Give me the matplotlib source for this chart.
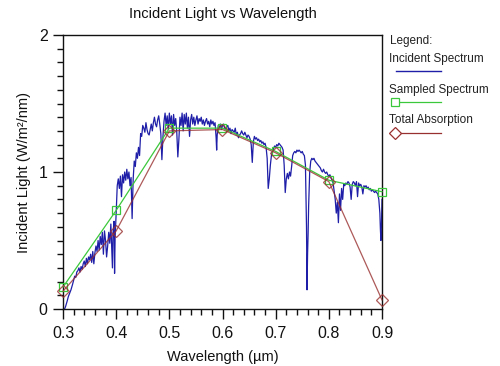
import matplotlib
matplotlib.use("Agg")
import matplotlib.pyplot as plt
from matplotlib.lines import Line2D
from matplotlib.ticker import MultipleLocator, FuncFormatter

plt.rcParams['font.family'] = ['Liberation Sans', 'DejaVu Sans']

# ---- data ----
wavelength = [
    0.300, 0.303, 0.305, 0.308, 0.310, 0.313, 0.315, 0.318, 0.320, 0.322, 0.324, 0.326, 0.328, 0.330,
    0.332, 0.334, 0.336, 0.338, 0.340, 0.342, 0.344, 0.346, 0.348, 0.350, 0.352, 0.354, 0.356, 0.358,
    0.360, 0.362, 0.364, 0.366, 0.368, 0.370, 0.372, 0.374, 0.376, 0.378, 0.380, 0.382, 0.384, 0.386,
    0.388, 0.390, 0.392, 0.393, 0.394, 0.396, 0.397, 0.398, 0.400, 0.402, 0.404, 0.406, 0.408, 0.410,
    0.412, 0.414, 0.416, 0.418, 0.420, 0.422, 0.424, 0.426, 0.428, 0.430, 0.432, 0.434, 0.436, 0.438,
    0.440, 0.442, 0.444, 0.446, 0.448, 0.450, 0.452, 0.454, 0.456, 0.458, 0.460, 0.462, 0.464, 0.466,
    0.468, 0.470, 0.472, 0.474, 0.476, 0.478, 0.480, 0.482, 0.484, 0.486, 0.488, 0.490, 0.492, 0.494,
    0.496, 0.498, 0.500, 0.502, 0.504, 0.506, 0.508, 0.510, 0.512, 0.514, 0.516, 0.518, 0.520, 0.522,
    0.524, 0.526, 0.528, 0.530, 0.532, 0.534, 0.536, 0.538, 0.540, 0.542, 0.544, 0.546, 0.548, 0.550,
    0.552, 0.554, 0.556, 0.558, 0.560, 0.562, 0.564, 0.566, 0.568, 0.570, 0.572, 0.574, 0.576, 0.578,
    0.580, 0.582, 0.584, 0.586, 0.588, 0.589, 0.590, 0.592, 0.594, 0.596, 0.598, 0.600, 0.602, 0.604,
    0.606, 0.608, 0.610, 0.612, 0.614, 0.616, 0.618, 0.620, 0.622, 0.624, 0.626, 0.628, 0.630, 0.632,
    0.634, 0.636, 0.638, 0.640, 0.642, 0.644, 0.646, 0.648, 0.650, 0.652, 0.654, 0.656, 0.658, 0.660,
    0.662, 0.664, 0.666, 0.668, 0.670, 0.672, 0.674, 0.676, 0.678, 0.680, 0.682, 0.684, 0.686, 0.688,
    0.690, 0.692, 0.694, 0.696, 0.698, 0.700, 0.702, 0.704, 0.706, 0.708, 0.710, 0.712, 0.714, 0.716,
    0.718, 0.720, 0.722, 0.724, 0.726, 0.728, 0.730, 0.732, 0.734, 0.736, 0.738, 0.740, 0.742, 0.744,
    0.746, 0.748, 0.750, 0.752, 0.754, 0.756, 0.758, 0.759, 0.760, 0.761, 0.762, 0.764, 0.766, 0.768,
    0.770, 0.772, 0.774, 0.776, 0.778, 0.780, 0.782, 0.784, 0.786, 0.788, 0.790, 0.792, 0.794, 0.796,
    0.798, 0.800, 0.802, 0.804, 0.806, 0.808, 0.810, 0.812, 0.814, 0.816, 0.818, 0.820, 0.822, 0.824,
    0.826, 0.828, 0.830, 0.832, 0.834, 0.836, 0.838, 0.840, 0.842, 0.844, 0.846, 0.848, 0.850, 0.852,
    0.854, 0.856, 0.858, 0.860, 0.862, 0.864, 0.866, 0.868, 0.870, 0.872, 0.874, 0.876, 0.878, 0.880,
    0.882, 0.884, 0.886, 0.888, 0.890, 0.892, 0.894, 0.896, 0.897, 0.898, 0.899, 0.900,
]
incident = [
    0.00, 0.00, 0.02, 0.06, 0.09, 0.12, 0.14, 0.18, 0.21, 0.24, 0.23, 0.27, 0.28, 0.30,
    0.27, 0.31, 0.29, 0.33, 0.35, 0.31, 0.37, 0.33, 0.38, 0.36, 0.40, 0.34, 0.42, 0.33,
    0.41, 0.46, 0.42, 0.50, 0.43, 0.53, 0.47, 0.56, 0.40, 0.57, 0.50, 0.38, 0.46, 0.56,
    0.48, 0.62, 0.42, 0.30, 0.55, 0.64, 0.26, 0.52, 0.70, 0.90, 0.95, 0.88, 0.97, 0.82,
    0.98, 0.92, 1.00, 0.94, 1.02, 0.95, 1.00, 0.90, 0.96, 0.66, 0.95, 1.08, 1.04, 1.14,
    1.10, 1.18, 1.12, 1.28, 1.26, 1.34, 1.32, 1.29, 1.36, 1.31, 1.28, 1.27, 1.31, 1.35,
    1.30, 1.36, 1.40, 1.35, 1.33, 1.38, 1.41, 1.35, 1.28, 1.09, 1.26, 1.37, 1.43, 1.34,
    1.41, 1.31, 1.43, 1.35, 1.41, 1.27, 1.42, 1.34, 1.39, 1.29, 1.11, 1.24, 1.40, 1.34,
    1.43, 1.30, 1.42, 1.35, 1.43, 1.32, 1.40, 1.26, 1.38, 1.42, 1.35, 1.40, 1.34, 1.38,
    1.41, 1.35, 1.39, 1.37, 1.40, 1.35, 1.38, 1.34, 1.37, 1.39, 1.35, 1.37, 1.33, 1.38,
    1.35, 1.37, 1.34, 1.36, 1.25, 1.16, 1.27, 1.34, 1.32, 1.35, 1.31, 1.34, 1.35, 1.32,
    1.31, 1.33, 1.34, 1.30, 1.32, 1.28, 1.31, 1.30, 1.29, 1.32, 1.27, 1.29, 1.25, 1.27,
    1.28, 1.30, 1.28, 1.27, 1.29, 1.27, 1.25, 1.27, 1.26, 1.24, 1.20, 1.07, 1.22, 1.26,
    1.24, 1.25, 1.23, 1.24, 1.22, 1.23, 1.21, 1.22, 1.20, 1.21, 1.18, 1.10, 0.88, 0.95,
    1.05, 1.12, 1.15, 1.17, 1.19, 1.18, 1.20, 1.19, 1.21, 1.20, 1.19, 1.18, 1.16, 1.05,
    0.85, 0.95, 0.99, 0.95, 1.00, 0.97, 1.04, 1.12, 1.14, 1.15, 1.14, 1.16, 1.15, 1.16,
    1.15, 1.14, 1.15, 1.13, 1.12, 1.05, 0.60, 0.14, 0.40, 0.55, 0.75, 1.00, 1.08, 1.10,
    1.09, 1.10, 1.08, 1.07, 1.06, 1.05, 1.04, 1.03, 1.01, 1.00, 1.02, 1.00, 0.99, 1.00,
    0.98, 0.97, 0.98, 0.96, 0.94, 0.92, 0.86, 0.80, 0.70, 0.78, 0.63, 0.84, 0.72, 0.88,
    0.80, 0.91, 0.90, 0.92, 0.91, 0.93, 0.92, 0.89, 0.80, 0.91, 0.93, 0.92, 0.90, 0.93,
    0.82, 0.92, 0.90, 0.91, 0.89, 0.84, 0.90, 0.89, 0.90, 0.88, 0.89, 0.87, 0.88, 0.86,
    0.87, 0.86, 0.85, 0.86, 0.85, 0.84, 0.80, 0.70, 0.58, 0.50, 0.62, 0.80,
]
sample_wl = [0.3, 0.4, 0.5, 0.6, 0.7, 0.8, 0.9]
sampled = [0.16, 0.72, 1.32, 1.32, 1.15, 0.94, 0.856]
absorption = [0.13, 0.57, 1.30, 1.31, 1.14, 0.93, 0.066]

blue = '#1e1ea8'
green = '#3cc83c'
red = '#993030'

fig = plt.figure(figsize=(5.0, 3.66), dpi=100)
ax = fig.add_axes([63/500, 1-309/366, (382-63)/500, (309-35)/366])

ax.plot(wavelength, incident, color=blue, lw=0.9, zorder=2)
ax.plot(sample_wl, sampled, color=green, lw=0.9, marker='s', ms=5.5,
        mfc='none', mec=green, mew=0.9, zorder=3, clip_on=False)
ax.plot(sample_wl, absorption, color=red, lw=0.9, marker='D', ms=6,
        mfc='none', mec=red, mew=0.9, zorder=4, alpha=0.8, clip_on=False)

ax.set_xlim(0.3, 0.9)
ax.set_ylim(0, 2)
ax.xaxis.set_major_locator(MultipleLocator(0.1))
ax.xaxis.set_minor_locator(MultipleLocator(0.02))
ax.yaxis.set_major_locator(MultipleLocator(1))
ax.yaxis.set_minor_locator(MultipleLocator(0.1))
ax.xaxis.set_major_formatter(FuncFormatter(lambda v, p: f'{v:.1f}'))
ax.yaxis.set_major_formatter(FuncFormatter(lambda v, p: f'{v:.0f}'))
ax.tick_params(which='major', direction='out', length=7, width=1, labelsize=11.5, colors='#111111')
ax.tick_params(axis='x', which='major', pad=5)
ax.tick_params(axis='y', which='major', pad=4)
ax.tick_params(which='minor', direction='out', length=4, width=1, colors='#111111')
for s in ax.spines.values():
    s.set_linewidth(1)
    s.set_color('#111111')

ax.set_title('Incident Light vs Wavelength', fontsize=10.5, pad=12, color='#111111')
ax.set_xlabel('Wavelength (\u00b5m)', fontsize=10.5, labelpad=7, color='#111111')
ax.set_ylabel('Incident Light (W/m\u00b2/nm)', fontsize=10.5, labelpad=6, color='#111111')

# ---- legend drawn at the right ----
def fx(px):
    return px / 500

def fy(py):
    return 1 - py / 366

fs = 8.5
tc = '#222222'
fig.text(fx(390), fy(41), 'Legend:', fontsize=fs, va='center', ha='left', color=tc)
fig.text(fx(389), fy(59), 'Incident Spectrum', fontsize=fs, va='center', ha='left', color=tc)
fig.add_artist(Line2D([fx(396), fx(441)], [fy(71), fy(71)], transform=fig.transFigure,
                      color=blue, lw=1.0))
fig.text(fx(389), fy(90), 'Sampled Spectrum', fontsize=fs, va='center', ha='left', color=tc)
fig.add_artist(Line2D([fx(395), fx(441)], [fy(102), fy(102)], transform=fig.transFigure,
                      color=green, lw=0.9))
fig.add_artist(Line2D([fx(395)], [fy(102)], transform=fig.transFigure, color=green,
                      marker='s', ms=5.5, mfc='white', mec=green, mew=0.9))
fig.text(fx(389), fy(120), 'Total Absorption', fontsize=fs, va='center', ha='left', color=tc)
fig.add_artist(Line2D([fx(395), fx(441)], [fy(133), fy(133)], transform=fig.transFigure,
                      color=red, lw=0.9))
fig.add_artist(Line2D([fx(395)], [fy(133)], transform=fig.transFigure, color=red,
                      marker='D', ms=6, mfc='white', mec=red, mew=0.9))

fig.savefig('out.png', dpi=100, facecolor='white')
